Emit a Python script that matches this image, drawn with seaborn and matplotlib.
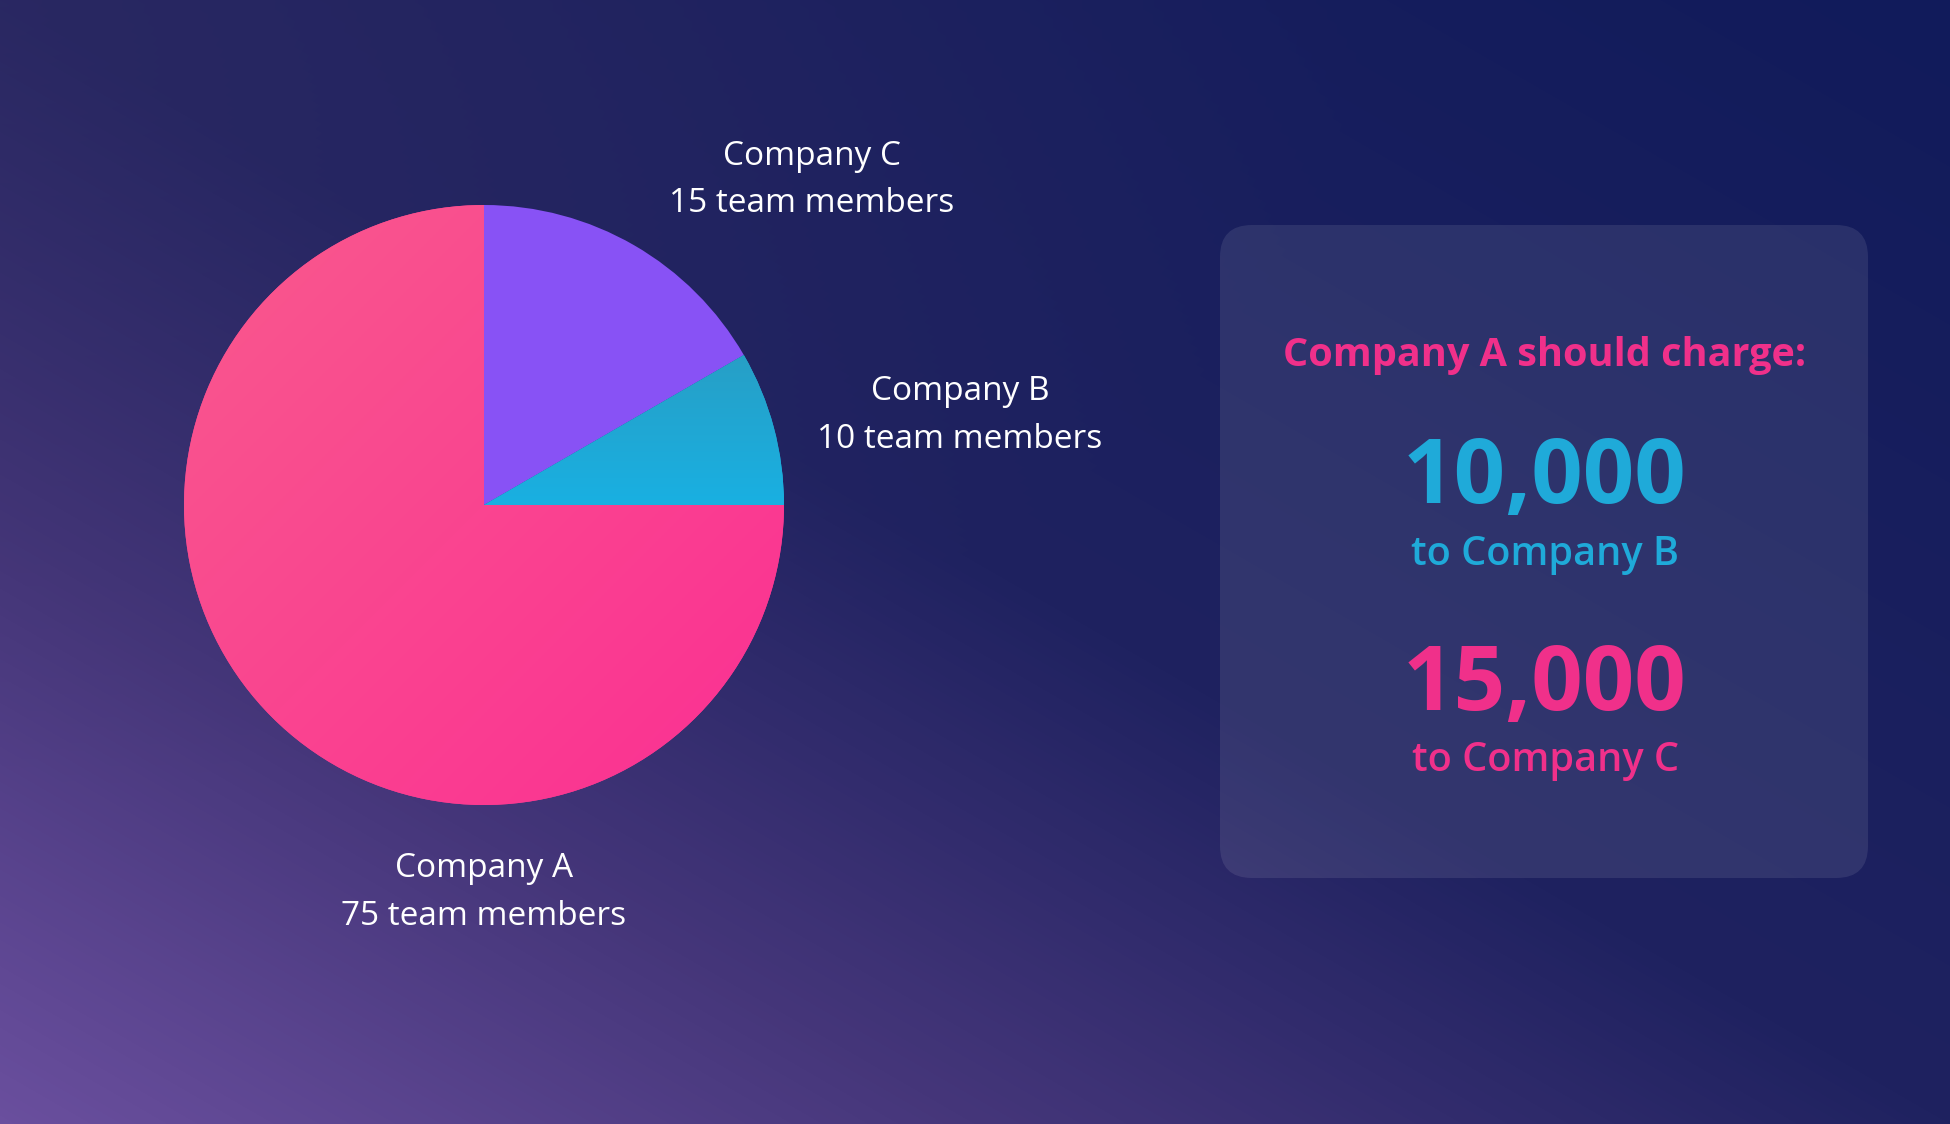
import numpy as np
import matplotlib
matplotlib.use("Agg")
import matplotlib.pyplot as plt
import seaborn as sns
from matplotlib.patches import FancyBboxPatch
from matplotlib.colors import LinearSegmentedColormap, to_rgb

# ---- data ----
companies = ["Company C", "Company B", "Company A"]
shares = [16.67, 8.33, 75.0]          # wedge shares (60°, 30°, 270°)
members = [15, 10, 75]                # team members shown in labels
slice_colors = ["#8852f5", "#20abd9", "#f83f8f"]
headline = "Company A should charge:"
charges = ["10,000", "15,000"]
charge_targets = ["to Company B", "to Company C"]
charge_colors = ["#1faad9", "#f0308a"]

sns.set_theme(style="white")
plt.rcParams['font.family'] = ['Open Sans', 'DejaVu Sans']

W, H = 1950, 1124
fig = plt.figure(figsize=(W / 100, H / 100), dpi=100)

# ---- background gradient ----
bg = fig.add_axes([0, 0, 1, 1])
bg.set_xlim(0, W)
bg.set_ylim(H, 0)
bg.axis('off')
yy, xx = np.mgrid[0:H, 0:W]
u = xx / W
v = (H - yy) / H
s = (u + v) / 2
cmap = LinearSegmentedColormap.from_list(
    "bg", [(0, "#6a4f9e"), (0.25, "#45367a"), (0.5, "#1f2260"), (1.0, "#111b5b")])
img = cmap(s)[..., :3]
d = np.sqrt(u ** 2 + (1 - v) ** 2)
w = (np.clip(1 - d / 0.7, 0, 1) * 0.35)[..., None]
img = img * (1 - w) + np.array(to_rgb("#3d3366")) * w
bg.imshow(img, extent=[0, W, H, 0], aspect='auto', zorder=0)

# ---- panel ----
panel = FancyBboxPatch((1220, 225), 648, 653,
                       boxstyle="round,pad=0,rounding_size=32",
                       facecolor="white", alpha=0.09, edgecolor="none", zorder=1)
bg.add_patch(panel)

bg.text(1545, 366, headline, color=charge_colors[1], fontsize=28.5,
        fontweight='bold', ha='center', va='baseline', zorder=2)
num_base = [503, 710]
sub_base = [565, 771]
for i in range(2):
    bg.text(1545, num_base[i], charges[i], color=charge_colors[i], fontsize=65,
            fontweight='bold', ha='center', va='baseline', zorder=2)
    bg.text(1545, sub_base[i], charge_targets[i], color=charge_colors[i], fontsize=28.5,
            fontweight='semibold', ha='center', va='baseline', zorder=2)

# ---- pie labels ----
label_pos = {"Company C": (812, 165, 212),
             "Company B": (960, 400, 448),
             "Company A": (484, 877, 925)}
for name, m in zip(companies, members):
    x, b1, b2 = label_pos[name]
    bg.text(x, b1, name, color="white", fontsize=24, ha='center', va='baseline')
    bg.text(x, b2, f"{m} team members", color="white", fontsize=24,
            ha='center', va='baseline')

# ---- pie ----
ax = fig.add_axes([184 / W, (H - 805) / H, 600 / W, 600 / H])
wedges, _ = ax.pie(shares, colors=slice_colors, startangle=90, counterclock=False,
                   radius=1, wedgeprops=dict(linewidth=0))
ax.set_xlim(-1, 1)
ax.set_ylim(-1, 1)
ax.axis('off')

gy, gx = np.mgrid[1:-1:400j, -1:1:400j]
# Company A wedge gradient (lighter toward top-left)
ta = np.clip((gx - gy + 2) / 4, 0, 1)[..., None]
ga = np.array(to_rgb("#f95a8d")) * (1 - ta) + np.array(to_rgb("#fb2f93")) * ta
im = ax.imshow(ga, extent=[-1, 1, -1, 1], zorder=3)
im.set_clip_path(wedges[2])
# Company B wedge gradient (vertical)
tb = np.clip((0.5 - gy) / 0.5, 0, 1)[..., None]
gb = np.array(to_rgb("#279fc6")) * (1 - tb) + np.array(to_rgb("#19b0e2")) * tb
im2 = ax.imshow(gb, extent=[-1, 1, -1, 1], zorder=3)
im2.set_clip_path(wedges[1])
ax.set_xlim(-1, 1)
ax.set_ylim(-1, 1)

fig.savefig("out.png", dpi=100)
